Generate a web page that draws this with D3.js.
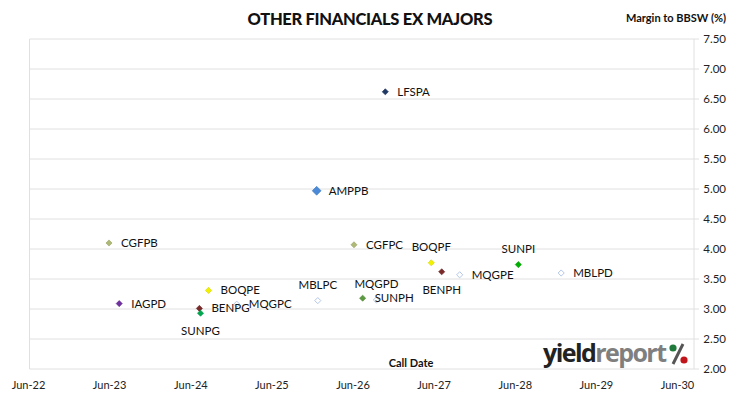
<!DOCTYPE html>
<html>
<head>
<meta charset="utf-8">
<script src="https://cdn.jsdelivr.net/npm/d3@7"></script>
<style>
  body { margin: 0; background: #fff; }
  svg { font-family: Lato, "Open Sans", sans-serif; }
</style>
</head>
<body>
<svg id="chart" width="730" height="399"></svg>
<script>
// security codes, call dates, margins (%)
const codes   = ["LFSPA", "AMPPB", "CGFPB", "CGFPC", "IAGPD", "BOQPE", "BOQPF", "BENPG", "BENPH", "SUNPG", "SUNPH", "SUNPI", "MQGPC", "MQGPD", "MQGPE", "MBLPC", "MBLPD"];
const callDates = ["2026-10-20", "2025-12-15", "2023-05-25", "2026-06-01", "2023-07-10", "2024-08-15", "2027-05-15", "2024-07-05", "2027-07-01", "2024-07-10", "2026-07-10", "2028-06-10", "2024-12-20", "2026-09-10", "2027-09-20", "2025-12-20", "2028-12-20"];
const margins = [6.62, 4.97, 4.10, 4.07, 3.09, 3.31, 3.77, 3.01, 3.62, 2.93, 3.18, 3.74, 3.08, 3.15, 3.57, 3.14, 3.60];
const labelPos = ["right", "right", "right", "right", "right", "right", "above", "right", "below", "below", "right", "above", "right", "above", "right", "above", "right"];

const yTicks = [2.0, 2.5, 3.0, 3.5, 4.0, 4.5, 5.0, 5.5, 6.0, 6.5, 7.0, 7.5];
const xTickLabels = ["Jun-22", "Jun-23", "Jun-24", "Jun-25", "Jun-26", "Jun-27", "Jun-28", "Jun-29", "Jun-30"];

const colors = {
  LFSPA: "#203864", AMPPB: "#4a8ad8", CGFPB: "#aeb975", CGFPC: "#aeb975",
  IAGPD: "#7030a0", BOQPE: "#f2f200", BOQPF: "#f2f200", BENPG: "#7b2a2a",
  BENPH: "#7b2a2a", SUNPG: "#00a84f", SUNPH: "#5b9a3e", SUNPI: "#00b000"
};

const svg = d3.select("#chart");
const parse = d3.timeParse("%Y-%m-%d");
const plotL = 29.5, plotR = 694, plotT = 39, plotB = 369;

const x = d3.scaleTime()
  .domain([parse("2022-06-01"), parse("2030-08-10")])
  .range([plotL, plotR]);
const y = d3.scaleLinear().domain([2, 7.5]).range([plotB, plotT]);

// gridlines
svg.append("g").selectAll("line").data(yTicks).enter().append("line")
  .attr("x1", plotL).attr("x2", plotR + 5)
  .attr("y1", d => y(d)).attr("y2", d => y(d))
  .attr("stroke", "#e0e0e0").attr("stroke-width", 1);

// plot border left + right axis line
svg.append("line").attr("x1", plotL).attr("x2", plotL).attr("y1", plotT).attr("y2", plotB)
  .attr("stroke", "#e0e0e0");
svg.append("line").attr("x1", plotR).attr("x2", plotR).attr("y1", plotT).attr("y2", plotB)
  .attr("stroke", "#e0e0e0");

// y labels on the right
svg.append("g").selectAll("text").data(yTicks).enter().append("text")
  .attr("x", 726).attr("y", d => y(d) + 4)
  .attr("text-anchor", "end").attr("font-size", 11.5).attr("fill", "#222")
  .text(d => d.toFixed(2));

// x labels
const xTickDates = xTickLabels.map(s => d3.timeParse("%b-%y")(s));
svg.append("g").selectAll("text").data(xTickDates).enter().append("text")
  .attr("x", d => x(d) - 1).attr("y", 389)
  .attr("text-anchor", "middle").attr("font-size", 11).attr("fill", "#222")
  .text((d, i) => xTickLabels[i]);

// titles
svg.append("text").attr("x", 370).attr("y", 25).attr("text-anchor", "middle")
  .attr("font-size", 16.5).attr("font-weight", 900).attr("fill", "#111")
  .attr("textLength", 245).text("OTHER FINANCIALS EX MAJORS");
svg.append("text").attr("x", 726).attr("y", 22).attr("text-anchor", "end")
  .attr("font-size", 11).attr("font-weight", "bold").attr("fill", "#111")
  .text("Margin to BBSW (%)");
svg.append("text").attr("x", 411).attr("y", 367).attr("text-anchor", "middle")
  .attr("font-size", 11).attr("font-weight", "bold").attr("fill", "#111")
  .text("Call Date");

// logo
const logo = svg.append("g");
logo.append("text").attr("x", 543).attr("y", 362)
  .attr("font-size", 25).attr("font-weight", "bold").attr("textLength", 124)
  .attr("font-family", "'Open Sans', sans-serif")
  .html('<tspan fill="#222">yield</tspan><tspan fill="#7f7f7f">report</tspan>');
logo.append("line").attr("x1", 673).attr("y1", 364).attr("x2", 683).attr("y2", 344)
  .attr("stroke", "#555").attr("stroke-width", 3);
logo.append("circle").attr("cx", 673).attr("cy", 348).attr("r", 3.6).attr("fill", "#1f7a3c");
logo.append("circle").attr("cx", 684).attr("cy", 360).attr("r", 3.6).attr("fill", "#c0151b");

// points
const pts = codes.map((c, i) => ({ code: c, date: parse(callDates[i]), v: margins[i], pos: labelPos[i] }));
const diamond = d3.symbol().type(d3.symbolDiamond2);

svg.append("g").selectAll("path").data(pts).enter().append("path")
  .attr("transform", d => `translate(${x(d.date)},${y(d.v)})`)
  .attr("d", d => diamond.size(d.code === "AMPPB" ? 50 : 24)())
  .attr("fill", d => colors[d.code] || "#fff")
  .attr("stroke", d => colors[d.code] ? d3.color(colors[d.code]).darker(0.4) : "#b4c7e7")
  .attr("stroke-width", d => colors[d.code] ? 0.6 : 1);

svg.append("g").selectAll("text").data(pts).enter().append("text")
  .attr("x", d => x(d.date) + (d.pos === "right" ? 12 : 0))
  .attr("y", d => y(d.v) + (d.pos === "right" ? 4 : d.pos === "above" ? -12 : 22))
  .attr("text-anchor", d => d.pos === "right" ? "start" : "middle")
  .attr("font-size", 11.5).attr("fill", "#111")
  .text(d => d.code);
</script>
</body>
</html>
